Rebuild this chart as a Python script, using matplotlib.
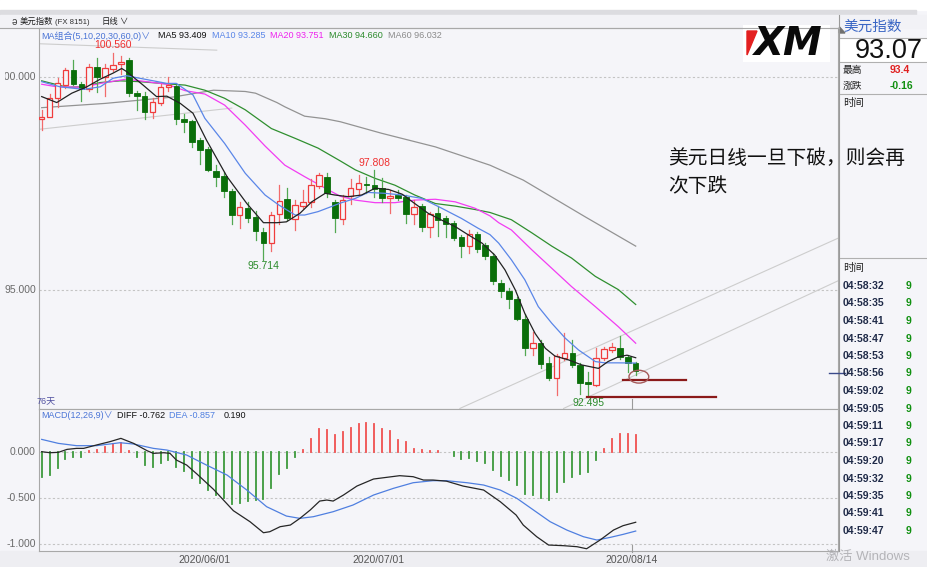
import matplotlib
matplotlib.use('Agg')
import matplotlib.pyplot as plt
from matplotlib.patches import Rectangle, Ellipse, Polygon
from matplotlib.lines import Line2D

plt.rcParams['font.family'] = ['Liberation Sans', 'Noto Sans CJK SC', 'DejaVu Sans']

# ---------------- data ----------------
opens = [99.01, 99.06, 99.51, 99.81, 100.17, 99.84, 99.73, 100.23, 100.00, 100.19,
         100.30, 100.40, 99.62, 99.56, 99.17, 99.40, 99.77, 99.79, 99.01, 98.97,
         98.51, 98.30, 97.79, 97.68, 97.33, 96.75, 96.93, 96.71, 96.37, 96.10,
         96.78, 97.13, 96.66, 96.98, 97.07, 97.44, 97.66, 97.06, 96.66, 97.21,
         97.36, 97.50, 97.46, 97.39, 97.15, 97.23, 97.19, 96.78, 96.97, 96.49,
         96.80, 96.68, 96.58, 96.25, 96.04, 96.31, 96.06, 95.80, 95.17, 94.98,
         94.80, 94.33, 93.65, 93.76, 93.29, 92.93, 93.40, 93.53, 93.24, 92.85,
         92.77, 93.40, 93.59, 93.63, 93.43, 93.28]
highs = [99.23, 99.59, 99.98, 100.22, 100.40, 99.89, 100.30, 100.45, 100.30, 100.56,
         100.50, 100.45, 99.67, 99.64, 99.51, 99.83, 100.01, 99.81, 99.13, 98.99,
         98.56, 98.35, 97.93, 97.78, 97.36, 97.07, 97.07, 96.86, 96.45, 96.84,
         97.46, 97.39, 97.11, 97.34, 97.60, 97.75, 97.74, 97.11, 97.23, 97.60,
         97.70, 97.66, 97.808, 97.64, 97.35, 97.35, 97.23, 97.11, 97.03, 96.84,
         96.97, 96.74, 96.63, 96.29, 96.41, 96.37, 96.11, 95.86, 95.23, 95.04,
         94.84, 94.44, 94.02, 93.83, 93.43, 93.50, 94.00, 93.83, 93.28, 93.08,
         93.63, 93.67, 93.75, 93.92, 93.47, 93.31]
lows = [98.76, 99.05, 99.30, 99.75, 99.81, 99.44, 99.66, 99.64, 99.56, 100.14,
        100.06, 99.56, 99.23, 99.01, 99.03, 99.34, 99.67, 98.89, 98.72, 98.35,
        97.96, 97.79, 97.43, 97.19, 96.56, 96.45, 96.59, 96.17, 95.714, 95.92,
        96.56, 96.64, 96.42, 96.92, 96.96, 97.39, 97.19, 96.37, 96.55, 97.03,
        97.23, 97.28, 97.19, 97.07, 96.80, 97.11, 96.57, 96.55, 96.39, 96.24,
        96.27, 96.25, 96.17, 95.77, 95.88, 95.90, 95.72, 95.14, 94.83, 94.57,
        94.30, 93.47, 93.47, 93.16, 92.89, 92.54, 93.36, 93.20, 92.57, 92.495,
        92.75, 93.36, 93.55, 93.37, 93.08, 93.00]
closes = [99.07, 99.50, 99.85, 100.17, 99.83, 99.73, 100.23, 100.00, 100.20, 100.28,
          100.36, 99.62, 99.56, 99.19, 99.41, 99.77, 99.81, 99.01, 98.94, 98.47,
          98.28, 97.82, 97.66, 97.32, 96.75, 96.95, 96.70, 96.39, 96.10, 96.76,
          97.10, 96.68, 97.00, 97.07, 97.46, 97.70, 97.27, 96.68, 97.11, 97.39,
          97.50, 97.46, 97.36, 97.15, 97.21, 97.15, 96.78, 96.96, 96.47, 96.78,
          96.64, 96.55, 96.21, 96.03, 96.31, 95.96, 95.80, 95.20, 94.98, 94.78,
          94.33, 93.63, 93.76, 93.26, 92.93, 93.45, 93.53, 93.24, 92.81, 92.79,
          93.40, 93.61, 93.66, 93.42, 93.28, 93.09]

# moving averages (candle position, value)
ma5_pos = [0.0, 1.9, 3.8, 5.7, 7.4, 9.0, 10.1, 10.7, 12.8, 14.5, 15.8, 17.5, 19.1, 20.8,
           23.4, 25.9, 28.0, 29.7, 30.9, 32.6, 34.1, 35.8, 37.0, 38.7, 40.4, 42.1, 43.8,
           45.5, 47.1, 48.8, 50.5, 52.2, 53.9, 55.6, 57.2, 58.5, 59.8, 61.0, 62.3, 63.6,
           64.8, 66.5, 68.2, 70.3, 71.5, 72.8, 73.9, 75.0]
ma5_val = [99.54, 99.40, 99.62, 99.77, 99.95, 100.09, 100.20, 100.13, 99.81, 99.54, 99.55,
           99.38, 99.15, 98.52, 97.66, 97.03, 96.58, 96.58, 96.60, 96.80, 97.07, 97.27,
           97.23, 97.19, 97.23, 97.39, 97.36, 97.25, 97.03, 96.80, 96.64, 96.49, 96.29,
           96.10, 95.82, 95.47, 95.00, 94.45, 93.98, 93.63, 93.45, 93.36, 93.24, 93.16,
           93.32, 93.43, 93.47, 93.41]
ma10_pos = [0.0, 2.3, 5.3, 7.4, 9.0, 10.7, 12.4, 15.8, 17.0, 19.1, 20.6, 23.1, 25.7, 28.2,
            29.9, 32.0, 33.2, 34.9, 36.6, 37.7, 39.6, 41.2, 43.3, 45.5, 48.0, 50.5, 53.0,
            55.1, 56.6, 57.7, 59.3, 61.0, 62.7, 64.4, 66.1, 67.8, 69.9, 71.1, 72.8, 75.0]
ma10_val = [99.89, 99.77, 99.71, 99.77, 99.97, 100.03, 99.97, 99.85, 99.85, 99.58, 99.03,
            98.44, 97.74, 97.23, 97.00, 96.76, 96.76, 96.84, 96.96, 97.04, 97.15, 97.29,
            97.27, 97.23, 97.15, 96.92, 96.68, 96.45, 96.30, 96.10, 95.71, 95.24, 94.61,
            94.22, 93.87, 93.59, 93.32, 93.29, 93.29, 93.285]
ma20_pos = [0.0, 1.9, 5.3, 7.4, 10.7, 12.4, 15.8, 18.1, 20.6, 23.1, 25.7, 28.2, 30.7, 33.2,
            35.8, 37.7, 39.6, 42.1, 44.6, 47.1, 49.7, 52.2, 54.7, 56.6, 57.7, 59.3, 61.9,
            64.4, 66.9, 69.9, 72.8, 75.0]
ma20_val = [99.83, 99.77, 99.76, 99.85, 99.95, 99.91, 99.83, 99.68, 99.60, 99.34, 98.87,
            98.38, 97.93, 97.66, 97.39, 97.20, 97.11, 97.05, 97.05, 97.11, 97.13, 97.07,
            96.92, 96.74, 96.58, 96.41, 95.94, 95.51, 95.08, 94.61, 94.14, 93.751]
ma30_pos = [0.0, 3.2, 5.3, 7.4, 9.9, 12.4, 15.8, 18.1, 20.6, 23.1, 25.7, 29.0, 32.0, 34.9,
            37.7, 39.6, 42.1, 44.6, 47.1, 49.7, 52.2, 54.7, 56.6, 59.3, 61.9, 64.4, 66.9,
            69.9, 72.8, 75.0]
ma30_val = [99.91, 99.76, 99.77, 99.87, 99.91, 99.89, 99.84, 99.81, 99.69, 99.50, 99.23,
            98.79, 98.56, 98.33, 98.03, 97.82, 97.62, 97.46, 97.23, 97.03, 96.97, 96.89,
            96.82, 96.65, 96.34, 96.03, 95.75, 95.32, 95.01, 94.66]
ma60_pos = [0.0, 8.0, 16.6, 21.7, 25.7, 27.0, 29.7, 30.7, 33.2, 35.8, 37.7, 42.9, 49.7,
            56.6, 60.8, 68.6, 75.0]
ma60_val = [99.28, 99.38, 99.53, 99.69, 99.66, 99.62, 99.40, 99.30, 99.08, 99.02, 98.95,
            98.68, 98.36, 97.93, 97.58, 96.72, 96.03]

# MACD(12,26,9)
macd_hist = [-0.277, -0.248, -0.173, -0.079, -0.054, -0.054, 0.007, 0.018, 0.054, 0.079,
             0.097, 0.004, -0.054, -0.144, -0.162, -0.119, -0.090, -0.162, -0.205, -0.288,
             -0.342, -0.414, -0.468, -0.504, -0.565, -0.551, -0.529, -0.522, -0.515, -0.396,
             -0.241, -0.180, -0.061, 0.018, 0.133, 0.241, 0.234, 0.180, 0.216, 0.252,
             0.299, 0.306, 0.299, 0.245, 0.223, 0.126, 0.101, 0.029, 0.018, 0.011,
             0.004, 0.000, -0.047, -0.083, -0.072, -0.101, -0.119, -0.198, -0.263, -0.306,
             -0.360, -0.457, -0.468, -0.504, -0.522, -0.432, -0.324, -0.270, -0.241, -0.216,
             -0.090, 0.029, 0.133, 0.191, 0.191, 0.184]
diff_pos = [0.0, 1.05, 2.1, 3.2, 4.4, 5.3, 6.9, 8.6, 10.0, 11.6, 13.3, 14.1, 15.4, 16.2,
            17.0, 18.3, 19.6, 21.7, 24.2, 26.3, 28.0, 28.8, 30.1, 31.4, 32.6, 33.9, 35.1,
            36.0, 36.8, 38.1, 39.8, 41.9, 45.2, 46.9, 48.2, 49.4, 51.1, 53.2, 55.8, 57.9,
            59.9, 60.8, 62.5, 64.0, 65.9, 67.6, 68.8, 70.5, 72.2, 73.4, 75.0]
diff_val = [0.000, -0.011, -0.007, 0.025, 0.036, 0.036, 0.072, 0.108, 0.144, 0.090, 0.011,
            -0.018, -0.011, -0.018, -0.090, -0.144, -0.241, -0.407, -0.637, -0.756, -0.875,
            -0.864, -0.810, -0.792, -0.720, -0.630, -0.533, -0.522, -0.533, -0.468, -0.371,
            -0.295, -0.259, -0.270, -0.306, -0.306, -0.318, -0.371, -0.414, -0.540, -0.684,
            -0.792, -0.918, -1.008, -1.015, -1.026, -1.048, -0.954, -0.846, -0.799, -0.762]
dea_pos = [0.0, 2.1, 4.4, 6.9, 9.9, 11.6, 14.1, 15.8, 18.3, 20.8, 23.4, 25.9, 28.4, 30.9,
           32.6, 34.3, 36.8, 39.3, 41.9, 44.4, 46.9, 49.4, 51.1, 53.7, 55.8, 57.9, 60.0,
           62.1, 64.2, 66.3, 68.4, 70.1, 71.8, 73.4, 75.0]
dea_val = [0.133, 0.090, 0.065, 0.065, 0.097, 0.083, 0.036, 0.018, -0.036, -0.144, -0.252,
           -0.414, -0.594, -0.695, -0.720, -0.702, -0.648, -0.576, -0.468, -0.396, -0.335,
           -0.313, -0.313, -0.335, -0.360, -0.414, -0.504, -0.630, -0.756, -0.846, -0.918,
           -0.954, -0.925, -0.893, -0.857]

date_labels = ['2020/06/01', '2020/07/01', '2020/08/14']
date_candles = [21, 43, 75]

# hand-drawn objects on the chart (candle position, price)
trend_top = ([-0.2, 22.1], [100.78, 100.63])
trend_light = ([-0.43, 24.0], [98.77, 99.27])
trend_a = ([52.8, 100.6], [92.22, 96.22])
trend_b = ([65.9, 100.6], [92.22, 95.22])
support_1 = ([73.4, 81.3], [92.88, 92.88])
support_2 = ([68.8, 85.1], [92.495, 92.495])

tick_times = ['04:58:32', '04:58:35', '04:58:41', '04:58:47', '04:58:53', '04:58:56',
              '04:59:02', '04:59:05', '04:59:11', '04:59:17', '04:59:20', '04:59:32',
              '04:59:35', '04:59:41', '04:59:47']

# ---------------- layout helpers (pixel geometry) ----------------
W, H = 928, 567
BG = '#f5f5f9'
X0, DX = 41.7, 7.92          # candle 0 at x=41.7px, 7.92px per candle
def px2i(x): return (x - X0) / DX
def py2p(y): return 100 - (y - 77) / 42.6
def py2m(y): return -(y - 451.7) / 92.6
def fa(x0, y0, x1, y1): return [x0 / W, 1 - y1 / H, (x1 - x0) / W, (y1 - y0) / H]
def T(x, y, s, **kw):
    kw.setdefault('va', 'center')
    return fig.text(x / W, 1 - y / H, s, **kw)
def L(x0, y0, x1, y1, **kw):
    fig.add_artist(Line2D([x0 / W, x1 / W], [1 - y0 / H, 1 - y1 / H],
                          transform=fig.transFigure, **kw))

fig = plt.figure(figsize=(9.28, 5.67), dpi=100)
fig.patch.set_facecolor(BG)

# background pieces
bg = fig.add_axes([0, 0, 1, 1], zorder=-5)
bg.set_xlim(0, W); bg.set_ylim(H, 0); bg.axis('off')
bg.add_patch(Rectangle((0, 0), W, 10, color='white'))
bg.add_patch(Rectangle((0, 10), 916, 5, color='#dcdce0'))
bg.add_patch(Rectangle((0, 15), W, 13, color='#f2f2f6'))
bg.add_patch(Rectangle((0, 551), W, 16, color='#eeeef2'))
bg.add_patch(Rectangle((840, 38), 88, 24, color='white'))

# ---------------- main price panel ----------------
TOP, BOT, LEFT, RIGHT = 28, 408.5, 38.5, 838.5
ax = fig.add_axes(fa(LEFT, TOP, RIGHT, BOT))
ax.set_xlim(px2i(LEFT), px2i(RIGHT))
ax.set_ylim(py2p(BOT), py2p(TOP))
ax.set_facecolor(BG)
ax.set_xticks([]); ax.set_yticks([])
for s in ax.spines.values():
    s.set_color('#a8a8a8'); s.set_linewidth(0.8)
for lvl in (100.0, 95.0):
    ax.axhline(lvl, color='#c4c4c4', lw=0.8, ls=(0, (2, 2)), zorder=1)

tl_kw = dict(color='#cdcdcd', lw=0.8, zorder=1.5)
for tx, ty in (trend_top, trend_light, trend_a, trend_b):
    ax.plot(tx, ty, **tl_kw)

RED, RED_W = '#f03c3c', '#f26b6b'
GRN, GRN_W = '#0a6e0a', '#52a852'
bw = 0.7
for i, (o, h, l, c) in enumerate(zip(opens, highs, lows, closes)):
    if c >= o:
        top, bot = c, o
        ax.plot([i, i], [top, h], color=RED_W, lw=0.9, zorder=3)
        ax.plot([i, i], [l, bot], color=RED_W, lw=0.9, zorder=3)
        ax.add_patch(Rectangle((i - bw / 2, bot), bw, max(top - bot, 0.03),
                               facecolor=BG, edgecolor=RED, lw=0.9, zorder=4))
    else:
        ax.plot([i, i], [l, h], color=GRN_W, lw=0.9, zorder=3)
        ax.add_patch(Rectangle((i - bw / 2, c), bw, max(o - c, 0.03),
                               facecolor=GRN, edgecolor=GRN, lw=0.6, zorder=4))

ax.plot(ma60_pos, ma60_val, color='#939393', lw=0.9, zorder=2)
ax.plot(ma30_pos, ma30_val, color='#2f8f2f', lw=0.9, zorder=2)
ax.plot(ma20_pos, ma20_val, color='#f23cf2', lw=0.9, zorder=2)
ax.plot(ma10_pos, ma10_val, color='#5a86e8', lw=0.9, zorder=5)
ax.plot(ma5_pos, ma5_val, color='#222222', lw=0.9, zorder=5)

ax.plot(*support_1, color='#8b1a1a', lw=1.6, zorder=6)
ax.plot(*support_2, color='#8b1a1a', lw=1.6, zorder=6)
ax.add_patch(Ellipse((75.4, 92.965), 2.5, 0.30, fill=False, edgecolor='#a55a5a',
                     lw=1.0, zorder=6))

# extreme labels
imax = highs.index(max(highs))
ax.annotate(f'{highs[imax]:.3f}', (imax, highs[imax]), xytext=(0, 2), textcoords='offset points',
            ha='center', va='bottom', color='#f03030', fontsize=7.5)
ax.annotate(f'{highs[42]:.3f}', (42, highs[42]), xytext=(0, 2), textcoords='offset points',
            ha='center', va='bottom', color='#f03030', fontsize=7.5)
ax.annotate(f'{lows[28]:.3f}', (28, lows[28]), xytext=(0, -1), textcoords='offset points',
            ha='center', va='top', color='#2a8a2a', fontsize=7.5)
imin = lows.index(min(lows))
ax.annotate(f'{lows[imin]:.3f}', (imin, lows[imin]), xytext=(0, -1), textcoords='offset points',
            ha='center', va='top', color='#2a8a2a', fontsize=7.5)

# price axis labels (clipped at left edge)
lab = fig.add_axes(fa(4.5, TOP, LEFT, BOT))
lab.set_xlim(4.5, LEFT); lab.set_ylim(py2p(BOT), py2p(TOP)); lab.axis('off')
for lvl in (100.0, 95.0):
    lab.text(36, lvl, f'{lvl:.3f}', ha='right', va='center', fontsize=7.5,
             color='#6a6a6a', clip_on=True)

# ---------------- MACD panel ----------------
MT, MB = 408.5, 551
ax2 = fig.add_axes(fa(LEFT, MT, RIGHT, MB))
ax2.set_xlim(px2i(LEFT), px2i(RIGHT))
ax2.set_ylim(py2m(MB), py2m(MT))
ax2.set_facecolor(BG)
ax2.set_xticks([]); ax2.set_yticks([])
for s in ax2.spines.values():
    s.set_color('#a8a8a8'); s.set_linewidth(0.8)
for lvl in (0.0, -0.5, -1.0):
    ax2.axhline(lvl, color='#c4c4c4', lw=0.8, ls=(0, (2, 2)), zorder=1)
for i, v in enumerate(macd_hist):
    if v == 0:
        continue
    ax2.plot([i, i], [0, v], color='#f05050' if v > 0 else '#3c9a3c', lw=1.3, zorder=2)
ax2.plot(dea_pos, dea_val, color='#4f7fe0', lw=0.9, zorder=3)
ax2.plot(diff_pos, diff_val, color='#262626', lw=0.9, zorder=3)

lab2 = fig.add_axes(fa(4.5, MT, LEFT, MB))
lab2.set_xlim(4.5, LEFT); lab2.set_ylim(py2m(MB), py2m(MT)); lab2.axis('off')
for lvl in (0.0, -0.5, -1.0):
    lab2.text(36, lvl, f'{lvl:.3f}', ha='right', va='center', fontsize=7.5,
              color='#6a6a6a', clip_on=True)

# date labels and cursor ticks
for d, c in zip(date_labels, date_candles):
    xp = X0 + (c - 0.5) * DX
    T(xp, 555, d, ha='center', va='top', fontsize=7.5, color='#555555')
xc = X0 + (date_candles[-1] - 0.5) * DX
L(xc, 399, xc, 409, color='#9a9a9a', lw=0.8)
L(xc, 545, xc, 552, color='#9a9a9a', lw=0.8)

# ---------------- header texts ----------------
T(12, 22, 'ə', fontsize=7, color='#404040')
T(20, 22, '美元指数', fontsize=6.0, color='#202020')
T(55, 22, '(FX 8151)', fontsize=5.6, color='#303030')
T(102, 22, '日线', fontsize=6.0, color='#202020')
T(119.5, 22, '∨', fontsize=6, color='#202020')

HF = 6.5
T(41.5, 36, 'MA组合(5,10,20,30,60,0)∨', fontsize=HF, color='#4a74d6')
T(157.7, 36, 'MA5 93.409', fontsize=HF, color='#111111')
T(212, 36, 'MA10 93.285', fontsize=HF, color='#5a86e8')
T(270.5, 36, 'MA20 93.751', fontsize=HF, color='#ee22ee')
T(329.3, 36, 'MA30 94.660', fontsize=HF, color='#2a8a2a')
T(387.7, 36, 'MA60 96.032', fontsize=HF, color='#8a8a8a')
T(37, 402, '76天', fontsize=6.5, color='#5050a0')

T(41.5, 415, 'MACD(12,26,9)∨', fontsize=HF, color='#4a74d6')
T(117.3, 415, 'DIFF -0.762', fontsize=HF, color='#111111')
T(169.3, 415, 'DEA -0.857', fontsize=HF, color='#4f7fe0')
T(223.3, 415, '0.190', fontsize=HF, color='#111111')

# ---------------- right info panel ----------------
L(838.5, 15, 838.5, 551, color='#9a9a9a', lw=0.8)
L(0, 28, 838.5, 28, color='#a8a8a8', lw=0.8)
L(840, 38, 928, 38, color='#b0b0b0', lw=0.8)
L(840, 62, 928, 62, color='#b0b0b0', lw=0.8)
L(840, 94, 928, 94, color='#b0b0b0', lw=0.8)
L(840, 258, 928, 258, color='#b0b0b0', lw=0.8)
L(829, 373, 845, 373, color='#3a4a8a', lw=1.0)
fig.add_artist(Polygon([[839.5 / W, 1 - 27 / H], [845 / W, 1 - 33 / H], [839.5 / W, 1 - 33 / H]],
                       closed=True, transform=fig.transFigure, color='#707070'))
T(843, 27, '美元指数', fontsize=10.5, color='#3a66c4')
T(855, 51, '93.07', fontsize=19.5, color='#111111')
T(843, 70, '最高', fontsize=7, color='#202020')
T(890, 70, '93.4', fontsize=7.5, color='#e02020', fontweight='bold')
T(843, 86, '涨跌', fontsize=7, color='#202020')
T(890, 86, '-0.16', fontsize=7.5, color='#109010', fontweight='bold')
T(843, 103, '时间', fontsize=7.5, color='#202020')
T(843, 268, '时间', fontsize=7.5, color='#202020')
for k, t in enumerate(tick_times):
    yy = 286 + 17.5 * k
    T(843, yy, t, fontsize=7.5, color='#1f2a48', fontweight='bold')
    T(906, yy, '9', fontsize=7.5, color='#109010', fontweight='bold')
T(826, 557, '激活 Windows', fontsize=9.5, color='#b4b4b8', va='center')

# XM logo
fig.add_artist(Rectangle((743 / W, 1 - 62 / H), 87 / W, 37 / H, transform=fig.transFigure,
                         facecolor='white', edgecolor='none'))
fig.add_artist(Polygon([[747 / W, 1 - 31 / H], [757 / W, 1 - 31 / H], [747 / W, 1 - 55 / H]],
                       closed=True, transform=fig.transFigure, color='#e32020'))
T(754, 44, 'XM', fontsize=28, fontweight='bold', style='italic', color='#0a0a0a',
  family='DejaVu Sans')

# annotation
T(668, 158, '美元日线一旦下破，则会再', fontsize=14.2, color='#111111',
  family=['Noto Sans CJK SC', 'DejaVu Sans'])
T(668, 186, '次下跌', fontsize=14.2, color='#111111',
  family=['Noto Sans CJK SC', 'DejaVu Sans'])

fig.savefig('out.png', dpi=100, facecolor=fig.get_facecolor())
